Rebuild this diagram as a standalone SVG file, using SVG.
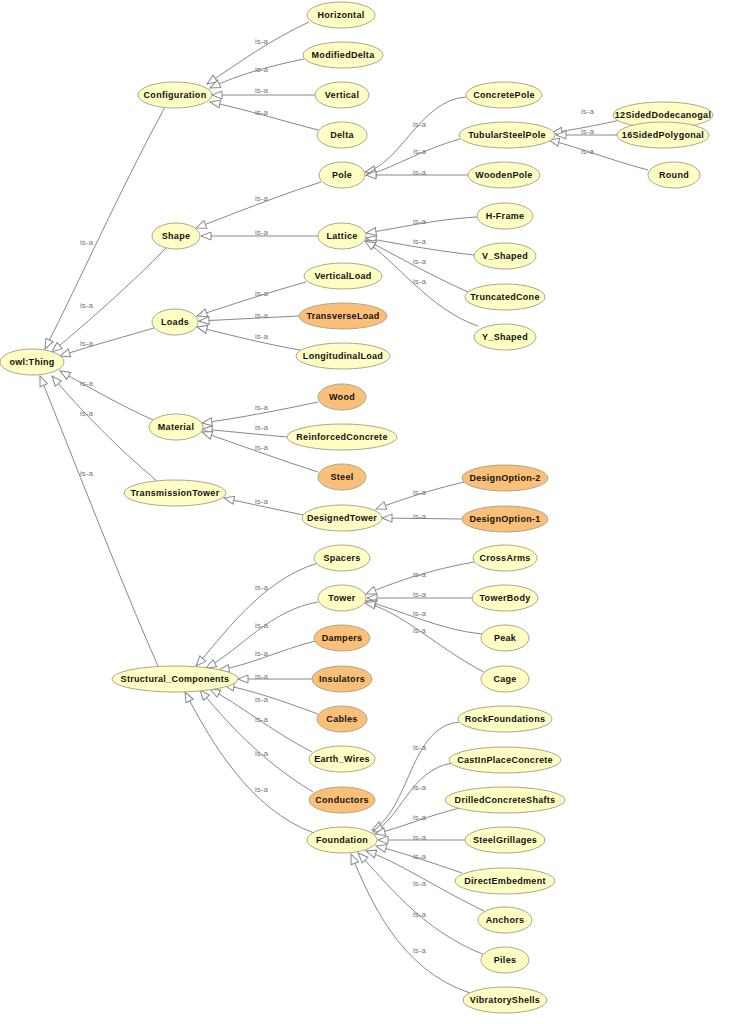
<svg xmlns="http://www.w3.org/2000/svg" width="741" height="1024" viewBox="0 0 741 1024">
<style>
.n ellipse{fill:#ffffc4;stroke:#a8a890;stroke-width:1}
.n.o ellipse{fill:#fbbf78}
.n text{font-family:"Liberation Sans",Arial,sans-serif;font-size:9px;font-weight:bold;fill:#111;text-anchor:middle;dominant-baseline:central;letter-spacing:0.3px}
#edges path{fill:none;stroke:#888;stroke-width:1;marker-end:url(#tri)}
#edges text{font-family:"Liberation Sans",Arial,sans-serif;font-size:8px;fill:#777}
</style>
<defs>
<marker id="tri" markerUnits="userSpaceOnUse" markerWidth="12" markerHeight="10" refX="11" refY="5" orient="auto">
<path d="M1,1 L11,5 L1,9 Z" fill="#fff" stroke="#888" stroke-width="1"/>
</marker>
</defs>
<rect width="741" height="1024" fill="#fff"/>
<g id="edges">
<path d="M309,22 C270,40 240,62 207,84"/><text x="255" y="44">is-a</text>
<path d="M304,59 C270,66 240,74 210,88"/><text x="255" y="72">is-a</text>
<path d="M315,95 L212,95"/><text x="255" y="93">is-a</text>
<path d="M318,130 C280,120 240,108 210,102"/><text x="255" y="115">is-a</text>
<path d="M466,97 C420,100 400,165 365,172"/><text x="413" y="127">is-a</text>
<path d="M460,139 C420,150 390,170 366,175"/><text x="413" y="154">is-a</text>
<path d="M468,175 L366,175"/><text x="413" y="175">is-a</text>
<path d="M620,120 C600,125 570,130 552,133"/><text x="581" y="114">is-a</text>
<path d="M617,135 L556,135"/><text x="581" y="134">is-a</text>
<path d="M648,170 C610,160 575,146 549,140"/><text x="581" y="154">is-a</text>
<path d="M321,182 C280,195 230,215 196,228"/><text x="255" y="201">is-a</text>
<path d="M318,236 L201,236"/><text x="255" y="235">is-a</text>
<path d="M477,217 C430,220 400,228 366,233"/><text x="413" y="224">is-a</text>
<path d="M474,255 C430,250 400,244 366,238"/><text x="413" y="244">is-a</text>
<path d="M468,292 C430,275 395,255 366,240"/><text x="413" y="264">is-a</text>
<path d="M478,326 C430,310 395,260 365,241"/><text x="413" y="284">is-a</text>
<path d="M306,282 C270,292 230,305 197,316"/><text x="255" y="296">is-a</text>
<path d="M299,316 L199,321"/><text x="255" y="318">is-a</text>
<path d="M300,350 C270,345 230,335 197,327"/><text x="255" y="339">is-a</text>
<path d="M318,402 C280,410 240,418 202,423"/><text x="255" y="410">is-a</text>
<path d="M287,437 L202,429"/><text x="255" y="430">is-a</text>
<path d="M318,472 C280,460 240,445 202,432"/><text x="255" y="450">is-a</text>
<path d="M303,515 C280,510 250,504 224,498"/><text x="255" y="504">is-a</text>
<path d="M464,482 C430,490 400,500 376,509"/><text x="413" y="495">is-a</text>
<path d="M462,519 L382,518"/><text x="413" y="519">is-a</text>
<path d="M474,562 C430,570 400,580 366,594"/><text x="413" y="577">is-a</text>
<path d="M472,598 L367,598"/><text x="413" y="597">is-a</text>
<path d="M482,634 C440,630 400,610 366,601"/><text x="413" y="616">is-a</text>
<path d="M484,672 C440,650 400,610 365,603"/><text x="413" y="633">is-a</text>
<path d="M318,563 C260,580 220,640 196,666"/><text x="255" y="590">is-a</text>
<path d="M318,602 C270,610 240,650 206,668"/><text x="255" y="628">is-a</text>
<path d="M315,641 C280,650 250,665 219,670"/><text x="255" y="656">is-a</text>
<path d="M312,679 L238,679"/><text x="255" y="679">is-a</text>
<path d="M318,714 C280,700 250,690 224,685"/><text x="255" y="702">is-a</text>
<path d="M312,752 C270,730 240,705 210,689"/><text x="255" y="722">is-a</text>
<path d="M313,792 C260,760 225,720 200,690"/><text x="255" y="756">is-a</text>
<path d="M314,833 C250,810 210,740 185,692"/><text x="255" y="792">is-a</text>
<path d="M460,722 C410,725 410,810 372,830"/><text x="413" y="750">is-a</text>
<path d="M452,763 C410,770 400,820 373,832"/><text x="413" y="790">is-a</text>
<path d="M460,808 C430,815 400,828 375,834"/><text x="413" y="820">is-a</text>
<path d="M466,840 L378,840"/><text x="413" y="840">is-a</text>
<path d="M462,873 C430,862 400,852 376,846"/><text x="413" y="859">is-a</text>
<path d="M484,911 C440,890 395,860 366,851"/><text x="413" y="886">is-a</text>
<path d="M485,955 C420,930 385,880 358,853"/><text x="413" y="917">is-a</text>
<path d="M470,993 C400,970 370,900 351,854"/><text x="413" y="953">is-a</text>
<path d="M165,107 C120,190 80,280 45,349"/><text x="80" y="245">is-a</text>
<path d="M166,248 C130,285 90,320 52,352"/><text x="80" y="308">is-a</text>
<path d="M154,328 C120,338 90,346 60,356"/><text x="80" y="346">is-a</text>
<path d="M153,420 C120,405 90,388 60,371"/><text x="80" y="386">is-a</text>
<path d="M157,481 C120,450 80,410 52,376"/><text x="80" y="416">is-a</text>
<path d="M158,666 C120,580 70,450 40,376"/><text x="80" y="476">is-a</text>
</g>
<g id="Horizontal" class="n"><ellipse cx="341" cy="15" rx="34" ry="13"/><text x="341" y="15">Horizontal</text></g>
<g id="ModifiedDelta" class="n"><ellipse cx="343" cy="55" rx="40" ry="13"/><text x="343" y="55">ModifiedDelta</text></g>
<g id="Vertical" class="n"><ellipse cx="342" cy="95" rx="27" ry="13"/><text x="342" y="95">Vertical</text></g>
<g id="Delta" class="n"><ellipse cx="342" cy="135" rx="25" ry="13"/><text x="342" y="135">Delta</text></g>
<g id="Configuration" class="n"><ellipse cx="175" cy="95" rx="37" ry="13"/><text x="175" y="95">Configuration</text></g>
<g id="ConcretePole" class="n"><ellipse cx="504" cy="95" rx="38" ry="13"/><text x="504" y="95">ConcretePole</text></g>
<g id="TubularSteelPole" class="n"><ellipse cx="507" cy="135" rx="48" ry="13"/><text x="507" y="135">TubularSteelPole</text></g>
<g id="WoodenPole" class="n"><ellipse cx="504" cy="175" rx="36" ry="13"/><text x="504" y="175">WoodenPole</text></g>
<g id="n12SidedDodecanogal" class="n"><ellipse cx="663" cy="115" rx="50" ry="13"/><text x="663" y="115">12SidedDodecanogal</text></g>
<g id="n16SidedPolygonal" class="n"><ellipse cx="663" cy="135" rx="46" ry="13"/><text x="663" y="135">16SidedPolygonal</text></g>
<g id="Round" class="n"><ellipse cx="674" cy="175" rx="26" ry="13"/><text x="674" y="175">Round</text></g>
<g id="Pole" class="n"><ellipse cx="342" cy="175" rx="23" ry="13"/><text x="342" y="175">Pole</text></g>
<g id="Shape" class="n"><ellipse cx="176" cy="236" rx="24" ry="13"/><text x="176" y="236">Shape</text></g>
<g id="Lattice" class="n"><ellipse cx="342" cy="236" rx="24" ry="13"/><text x="342" y="236">Lattice</text></g>
<g id="H-Frame" class="n"><ellipse cx="505" cy="216" rx="28" ry="13"/><text x="505" y="216">H-Frame</text></g>
<g id="V_Shaped" class="n"><ellipse cx="505" cy="256" rx="31" ry="13"/><text x="505" y="256">V_Shaped</text></g>
<g id="TruncatedCone" class="n"><ellipse cx="505" cy="297" rx="40" ry="13"/><text x="505" y="297">TruncatedCone</text></g>
<g id="Y_Shaped" class="n"><ellipse cx="505" cy="337" rx="31" ry="13"/><text x="505" y="337">Y_Shaped</text></g>
<g id="VerticalLoad" class="n"><ellipse cx="343" cy="276" rx="39" ry="13"/><text x="343" y="276">VerticalLoad</text></g>
<g id="TransverseLoad" class="n o"><ellipse cx="343" cy="316" rx="44" ry="13"/><text x="343" y="316">TransverseLoad</text></g>
<g id="LongitudinalLoad" class="n"><ellipse cx="343" cy="356" rx="47" ry="13"/><text x="343" y="356">LongitudinalLoad</text></g>
<g id="Loads" class="n"><ellipse cx="175" cy="322" rx="23" ry="13"/><text x="175" y="322">Loads</text></g>
<g id="owlThing" class="n"><ellipse cx="32" cy="362" rx="32" ry="13"/><text x="32" y="362">owl:Thing</text></g>
<g id="Material" class="n"><ellipse cx="176" cy="427" rx="27" ry="13"/><text x="176" y="427">Material</text></g>
<g id="Wood" class="n o"><ellipse cx="342" cy="397" rx="24" ry="13"/><text x="342" y="397">Wood</text></g>
<g id="ReinforcedConcrete" class="n"><ellipse cx="342" cy="437" rx="55" ry="13"/><text x="342" y="437">ReinforcedConcrete</text></g>
<g id="Steel" class="n o"><ellipse cx="342" cy="477" rx="24" ry="13"/><text x="342" y="477">Steel</text></g>
<g id="TransmissionTower" class="n"><ellipse cx="175" cy="493" rx="51" ry="13"/><text x="175" y="493">TransmissionTower</text></g>
<g id="DesignedTower" class="n"><ellipse cx="342" cy="518" rx="40" ry="13"/><text x="342" y="518">DesignedTower</text></g>
<g id="DesignOption-2" class="n o"><ellipse cx="505" cy="478" rx="43" ry="13"/><text x="505" y="478">DesignOption-2</text></g>
<g id="DesignOption-1" class="n o"><ellipse cx="505" cy="519" rx="43" ry="13"/><text x="505" y="519">DesignOption-1</text></g>
<g id="Spacers" class="n"><ellipse cx="342" cy="558" rx="28" ry="13"/><text x="342" y="558">Spacers</text></g>
<g id="Tower" class="n"><ellipse cx="342" cy="598" rx="24" ry="13"/><text x="342" y="598">Tower</text></g>
<g id="CrossArms" class="n"><ellipse cx="505" cy="558" rx="32" ry="13"/><text x="505" y="558">CrossArms</text></g>
<g id="TowerBody" class="n"><ellipse cx="505" cy="598" rx="33" ry="13"/><text x="505" y="598">TowerBody</text></g>
<g id="Peak" class="n"><ellipse cx="505" cy="638" rx="24" ry="13"/><text x="505" y="638">Peak</text></g>
<g id="Cage" class="n"><ellipse cx="505" cy="679" rx="24" ry="13"/><text x="505" y="679">Cage</text></g>
<g id="Dampers" class="n o"><ellipse cx="342" cy="638" rx="28" ry="13"/><text x="342" y="638">Dampers</text></g>
<g id="Insulators" class="n o"><ellipse cx="342" cy="679" rx="30" ry="13"/><text x="342" y="679">Insulators</text></g>
<g id="Cables" class="n o"><ellipse cx="342" cy="719" rx="25" ry="13"/><text x="342" y="719">Cables</text></g>
<g id="Earth_Wires" class="n"><ellipse cx="342" cy="759" rx="33" ry="13"/><text x="342" y="759">Earth_Wires</text></g>
<g id="Conductors" class="n o"><ellipse cx="342" cy="800" rx="33" ry="13"/><text x="342" y="800">Conductors</text></g>
<g id="Structural_Components" class="n"><ellipse cx="175" cy="679" rx="63" ry="13"/><text x="175" y="679">Structural_Components</text></g>
<g id="Foundation" class="n"><ellipse cx="342" cy="840" rx="35" ry="13"/><text x="342" y="840">Foundation</text></g>
<g id="RockFoundations" class="n"><ellipse cx="505" cy="719" rx="47" ry="13"/><text x="505" y="719">RockFoundations</text></g>
<g id="CastInPlaceConcrete" class="n"><ellipse cx="505" cy="760" rx="56" ry="13"/><text x="505" y="760">CastInPlaceConcrete</text></g>
<g id="DrilledConcreteShafts" class="n"><ellipse cx="505" cy="800" rx="60" ry="13"/><text x="505" y="800">DrilledConcreteShafts</text></g>
<g id="SteelGrillages" class="n"><ellipse cx="505" cy="840" rx="40" ry="13"/><text x="505" y="840">SteelGrillages</text></g>
<g id="DirectEmbedment" class="n"><ellipse cx="505" cy="881" rx="50" ry="13"/><text x="505" y="881">DirectEmbedment</text></g>
<g id="Anchors" class="n"><ellipse cx="505" cy="920" rx="27" ry="13"/><text x="505" y="920">Anchors</text></g>
<g id="Piles" class="n"><ellipse cx="505" cy="960" rx="24" ry="13"/><text x="505" y="960">Piles</text></g>
<g id="VibratoryShells" class="n"><ellipse cx="505" cy="1000" rx="42" ry="13"/><text x="505" y="1000">VibratoryShells</text></g>
</svg>
